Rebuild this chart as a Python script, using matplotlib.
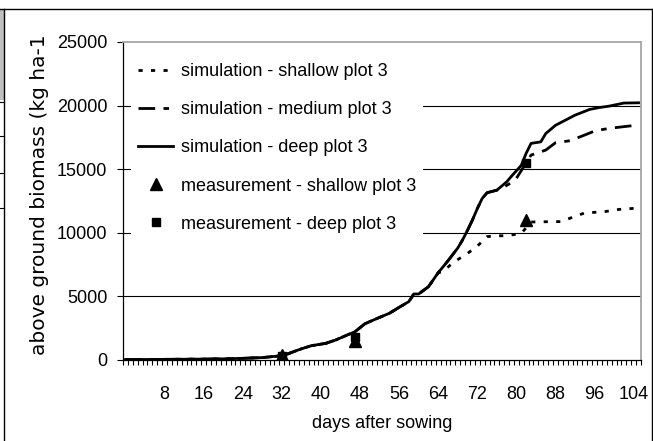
import matplotlib
matplotlib.use("Agg")
import matplotlib.pyplot as plt
from matplotlib.lines import Line2D
from matplotlib.patches import Rectangle
import numpy as np

plt.rcParams['font.family'] = ['Liberation Sans', 'DejaVu Sans']
plt.rcParams['font.size'] = 13

# ---------------- data ----------------
deep_days = [0, 4, 8, 12, 16, 20, 24, 28, 31, 33, 36, 38, 41, 43, 47, 49, 52, 54, 56,
             58, 59, 60, 62, 64, 66, 68, 69, 70, 71, 72, 73, 74, 76, 78, 79, 81, 82,
             83, 85, 86, 88, 90, 92, 95, 97, 99, 102, 105]
deep_vals = [30, 40, 50, 60, 70, 90, 130, 190, 300, 450, 880, 1120, 1310, 1570, 2230,
             2850, 3350, 3670, 4140, 4590, 5190, 5190, 5760, 6860, 7800, 8800, 9450,
             10200, 11000, 11900, 12700, 13150, 13350, 14000, 14450, 15300, 16250,
             17030, 17150, 17800, 18450, 18850, 19250, 19700, 19850, 19960, 20200, 20220]

medium_days = [0, 4, 8, 12, 16, 20, 24, 28, 31, 33, 36, 38, 41, 43, 47, 49, 52, 54, 56,
               58, 59, 60, 62, 64, 66, 68, 69, 70, 71, 72, 73, 74, 76, 77, 79, 80, 82,
               83, 86, 88, 91, 94, 96, 97, 99, 103, 105]
medium_vals = [30, 40, 50, 60, 70, 90, 130, 190, 300, 450, 880, 1120, 1310, 1570, 2230,
               2850, 3350, 3670, 4140, 4590, 5190, 5190, 5760, 6860, 7800, 8800, 9450,
               10200, 11000, 11900, 12700, 13150, 13350, 13500, 13950, 14280, 15500,
               16110, 16500, 17080, 17240, 17690, 18000, 18080, 18210, 18390, 18470]

shallow_days = [0, 4, 8, 12, 16, 20, 24, 28, 31, 33, 36, 38, 41, 43, 47, 49, 52, 54, 56,
                58, 59, 60, 62, 64, 65, 67, 70, 72, 74, 76, 78, 81, 82, 83, 86, 89, 91,
                92, 94, 98, 101, 104, 105]
shallow_vals = [30, 40, 50, 60, 70, 90, 130, 190, 300, 450, 880, 1120, 1310, 1570, 2230,
                2850, 3350, 3670, 4140, 4590, 5190, 5190, 5760, 6860, 6950, 7650, 8380,
                8950, 9700, 9760, 9770, 9950, 10400, 10850, 10870, 10880, 11150, 11300,
                11560, 11660, 11840, 11920, 11950]

meas_days = [32, 47, 82]
meas_shallow = [400, 1500, 11000]
meas_deep = [300, 1800, 15500]

x_tick_labels = [8, 16, 24, 32, 40, 48, 56, 64, 72, 80, 88, 96, 104]
y_ticks = [0, 5000, 10000, 15000, 20000, 25000]

labels = ['simulation - shallow plot 3', 'simulation - medium plot 3',
          'simulation - deep plot 3', 'measurement - shallow plot 3',
          'measurement - deep plot 3']

# ---------------- figure ----------------
W, H = 653, 441
fig = plt.figure(figsize=(W / 100, H / 100), dpi=100)
ax = fig.add_axes([123 / W, 1 - 360 / H, (641 - 123) / W, (360 - 42) / H])

lw = 2.0
l_sh, = ax.plot(shallow_days, shallow_vals, color='black', lw=lw,
                linestyle=(0, (1.5, 3)), zorder=3)
l_me, = ax.plot(medium_days, medium_vals, color='black', lw=lw,
                linestyle=(0, (6, 3, 2, 3)), zorder=3.1)
l_de, = ax.plot(deep_days, deep_vals, color='black', lw=lw, linestyle='-', zorder=3.2)
m_sh, = ax.plot(meas_days, meas_shallow, linestyle='none', marker='^', ms=8,
                color='black', zorder=4)
m_de, = ax.plot(meas_days, meas_deep, linestyle='none', marker='s', ms=6,
                color='black', zorder=4)

ax.set_xlim(-0.5, 105.5)
ax.set_ylim(0, 25000)

ax.set_yticks(y_ticks)
ax.set_yticklabels([str(v) for v in y_ticks])
ax.tick_params(axis='y', direction='out', length=4.3, width=0.8, pad=7, colors='black')

ax.set_xticks(x_tick_labels)
ax.set_xticklabels([str(v) for v in x_tick_labels])
ax.set_xticks(np.arange(-0.5, 106, 1), minor=True)
ax.tick_params(axis='x', which='major', length=0, pad=19)
ax.tick_params(axis='x', which='minor', direction='out', length=3.8, width=0.8)

ax.yaxis.grid(True, color='black', lw=0.8)
gl = ax.get_ygridlines()
gl[0].set_visible(False)
gl[-1].set_visible(False)
ax.set_axisbelow(True)

for s in ['left', 'bottom']:
    ax.spines[s].set_color('black')
    ax.spines[s].set_linewidth(0.9)
for s in ['top', 'right']:
    ax.spines[s].set_color('#a6a6a6')
    ax.spines[s].set_linewidth(1.3)

leg = ax.legend([l_sh, l_me, l_de, m_sh, m_de], labels, loc='upper left',
                bbox_to_anchor=(131 / W, 1 - 56 / H), bbox_transform=fig.transFigure,
                frameon=True, facecolor='white', edgecolor='none', framealpha=1,
                fancybox=False, handlelength=1.95, handletextpad=0.4,
                labelspacing=1.17, borderaxespad=0, borderpad=0.4, numpoints=1,
                fontsize=13)

fig.text(382 / W, 1 - 428 / H, 'days after sowing', ha='center', va='baseline',
         fontsize=13)
fig.text(40 / W, 1 - 195 / H, 'above ground biomass (kg ha-1', ha='center',
         va='center', rotation=90, fontsize=14.5, family='DejaVu Sans')

# outer frame of the chart object
fig.add_artist(Line2D([4 / W, 4 / W], [0, 1 - 9 / H], transform=fig.transFigure,
                      color='black', lw=1))
fig.add_artist(Line2D([0, 1], [1 - 9 / H, 1 - 9 / H], transform=fig.transFigure,
                      color='black', lw=1))
fig.add_artist(Line2D([651.5 / W, 651.5 / W], [0, 1 - 9 / H],
                      transform=fig.transFigure, color='black', lw=1))
fig.add_artist(Rectangle((0, 1 - 100 / H), 4 / W, 91 / H, transform=fig.transFigure,
                         facecolor='#c0c0c0', edgecolor='none'))
for yy in [101.7, 136, 172.7, 208.3]:
    fig.add_artist(Line2D([0, 4 / W], [1 - yy / H, 1 - yy / H],
                          transform=fig.transFigure, color='black', lw=0.8))

fig.savefig('out.png', dpi=100)
